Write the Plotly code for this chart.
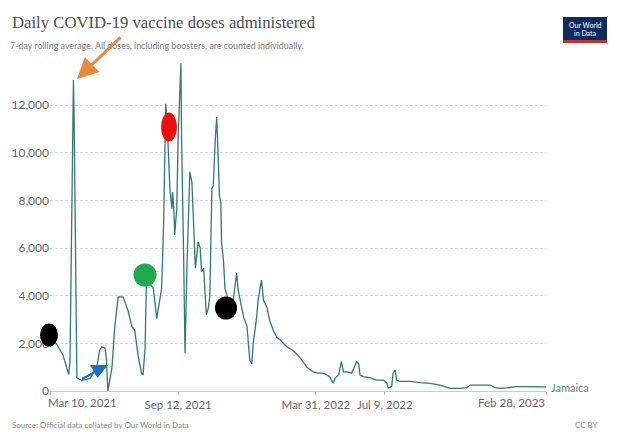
import plotly.graph_objects as go

# ---------------- data ----------------
dates = [
    "2021-03-10", "2021-03-20", "2021-03-29", "2021-04-06", "2021-04-08", "2021-04-13",
    "2021-04-14", "2021-04-15", "2021-04-18", "2021-04-25", "2021-05-07", "2021-05-17",
    "2021-05-21", "2021-05-24", "2021-05-29", "2021-05-31", "2021-06-02", "2021-06-08",
    "2021-06-12", "2021-06-17", "2021-06-24", "2021-07-01", "2021-07-07", "2021-07-11",
    "2021-07-16", "2021-07-21", "2021-07-23", "2021-07-26", "2021-07-28", "2021-08-02",
    "2021-08-07", "2021-08-12", "2021-08-17", "2021-08-19", "2021-08-22", "2021-08-24",
    "2021-08-25", "2021-08-27", "2021-08-29", "2021-08-31", "2021-09-03", "2021-09-04",
    "2021-09-06", "2021-09-07", "2021-09-10", "2021-09-12", "2021-09-16", "2021-09-17",
    "2021-09-20", "2021-09-22", "2021-09-25", "2021-09-29", "2021-10-02", "2021-10-04",
    "2021-10-07", "2021-10-09", "2021-10-11", "2021-10-14", "2021-10-16", "2021-10-19",
    "2021-10-21", "2021-10-23", "2021-10-26", "2021-10-28", "2021-10-31", "2021-11-02",
    "2021-11-05", "2021-11-07", "2021-11-09", "2021-11-11", "2021-11-13", "2021-11-14",
    "2021-11-17", "2021-11-19", "2021-11-24", "2021-12-01", "2021-12-04", "2021-12-06",
    "2021-12-08", "2021-12-11", "2021-12-16", "2021-12-18", "2021-12-21", "2021-12-25",
    "2021-12-28", "2021-12-30", "2022-01-04", "2022-01-06", "2022-01-11", "2022-01-14",
    "2022-01-19", "2022-01-23", "2022-01-28", "2022-02-02", "2022-02-07", "2022-02-17",
    "2022-02-26", "2022-03-08", "2022-03-18", "2022-03-27", "2022-04-03", "2022-04-11",
    "2022-04-16", "2022-04-20", "2022-04-25", "2022-04-28", "2022-05-03", "2022-05-07",
    "2022-05-10", "2022-05-15", "2022-05-22", "2022-05-24", "2022-05-29", "2022-06-01",
    "2022-06-03", "2022-06-08", "2022-06-18", "2022-06-27", "2022-07-07", "2022-07-12",
    "2022-07-14", "2022-07-19", "2022-07-21", "2022-07-24", "2022-07-26", "2022-07-31",
    "2022-08-15", "2022-08-29", "2022-09-13", "2022-09-27", "2022-10-12", "2022-10-26",
    "2022-11-05", "2022-11-10", "2022-11-24", "2022-12-09", "2022-12-16", "2022-12-23",
    "2023-01-02", "2023-01-16", "2023-01-31", "2023-02-10", "2023-02-24", "2023-02-28",
]
doses = [
    2300, 1950, 1500, 700, 1200, 13050,
    11400, 8300, 550, 450, 520, 1000,
    1700, 1850, 1800, 1300, 0, 1000,
    2700, 3950, 3950, 3400, 2700, 2550,
    1450, 750, 670, 1800, 4600, 4500,
    4300, 3050, 4000, 4300, 7100, 10600,
    12050, 11300, 9750, 8500, 7650, 8350,
    7500, 6550, 7650, 10600, 13750, 10600,
    5700, 1600, 5400, 9200, 8750, 7100,
    5150, 5700, 6250, 6000, 5000, 5150,
    4000, 3200, 3500, 4000, 8500, 8600,
    10600, 11500, 9900, 8200, 7900, 6250,
    5400, 4300, 3800, 3800, 4500, 4950,
    4250, 3800, 3100, 2950, 2700, 1300,
    1150, 2000, 3100, 3800, 4650, 3800,
    3500, 2950, 2550, 2250, 2150, 1850,
    1700, 1400, 1000, 800, 750, 750,
    680, 600, 330, 540, 670, 1230,
    800, 800, 750, 880, 1230, 1150,
    670, 600, 550, 460, 460, 330,
    120, 200, 750, 880, 460, 400,
    400, 350, 320, 250, 110, 110,
    140, 250, 250, 250, 140, 110,
    130, 180, 180, 190, 175, 160,
]
country = "Jamaica"
title_text = "Daily COVID-19 vaccine doses administered"
subtitle_text = "7-day rolling average. All doses, including boosters, are counted individually."
source_text = "Source: Official data collated by Our World in Data"
license_text = "CC BY"
y_tick_values = [0, 2000, 4000, 6000, 8000, 10000, 12000]
x_start, x_end = "2021-03-10", "2023-02-28"
x_start_label, x_end_label = "Mar 10, 2021", "Feb 28, 2023"
x_tick_dates = ["2021-09-12", "2022-03-31", "2022-07-09"]
x_tick_labels = ["Sep 12, 2021", "Mar 31, 2022", "Jul 9, 2022"]

# ---------------- geometry ----------------
OFF = 8                      # the page body has an 8px margin
W, H = 626 - OFF, 432 - OFF
PLOT_L, PLOT_R, PLOT_T, PLOT_B = 50, 546, 60, 391   # plot area in window pixels
ML, MR = PLOT_L - OFF, W - (PLOT_R - OFF)
MT, MB = PLOT_T - OFF, H - (PLOT_B - OFF)
PW, PH = W - ML - MR, H - MT - MB
Y_MAX = 13890


def P(xp, yp):
    """window pixel position -> paper coordinates (for decorative overlays)"""
    return (xp - PLOT_L) / PW, 1 - (yp - PLOT_T) / PH


LINE = "#2f7c6c"
GRAY = "#666666"
FONT = "Lato"

fig = go.Figure()
fig.add_trace(go.Scatter(
    x=dates, y=doses, mode="lines",
    line=dict(color=LINE, width=1.3),
    name=country, showlegend=False, hoverinfo="x+y",
))

fig.update_xaxes(
    type="date", range=[x_start, x_end], automargin=False,
    tickvals=[x_start] + x_tick_dates + [x_end],
    ticktext=[""] + x_tick_labels + [""],
    ticks="outside", ticklen=3, tickcolor="#aaaaaa",
    showgrid=False, showline=True, linecolor="#cccccc", linewidth=1,
    tickfont=dict(family=FONT, size=11.5, color=GRAY),
    zeroline=False,
)
fig.update_yaxes(
    range=[0, Y_MAX], tickvals=y_tick_values, tickformat=",d", automargin=False,
    showgrid=True, gridcolor="#d6d6d6", griddash="3px,2px", gridwidth=1,
    zeroline=False, showline=False, ticks="",
    tickfont=dict(family=FONT, size=12, color=GRAY),
)

ann = []
# title
tx, ty = P(10, 23)
ann.append(dict(x=tx, y=ty, xref="paper", yref="paper", text=title_text,
                showarrow=False, xanchor="left", yanchor="middle",
                font=dict(family="Liberation Serif", size=16.7, color="#4d4d4d")))
# subtitle
sx, sy = P(8, 45)
ann.append(dict(x=sx, y=sy, xref="paper", yref="paper", text=subtitle_text,
                showarrow=False, xanchor="left", yanchor="middle",
                font=dict(family=FONT, size=8.9, color="#777777")))
# endpoint x labels (left / right aligned like the original)
for d, lab, anc, sh in [(x_start, x_start_label, "left", -4),
                        (x_end, x_end_label, "right", 1)]:
    ann.append(dict(x=d, xref="x", y=P(0, 402)[1], yref="paper", text=lab,
                    showarrow=False, xanchor=anc, yanchor="middle", xshift=sh,
                    font=dict(family=FONT, size=11.5, color=GRAY)))
# series label
ann.append(dict(x=1, xref="paper", y=doses[-1], yref="y", text=country, xshift=3,
                showarrow=False, xanchor="left", yanchor="middle",
                font=dict(family=FONT, size=11, color="#4f8f84")))
# source / licence (kept fully inside the canvas)
sx, sy = P(10, 432)
ann.append(dict(x=sx, y=sy, xref="paper", yref="paper", text=source_text,
                showarrow=False, xanchor="left", yanchor="bottom",
                font=dict(family=FONT, size=8, color="#888888")))
sx, sy = P(600, 432)
ann.append(dict(x=sx, y=sy, xref="paper", yref="paper", text=license_text,
                showarrow=False, xanchor="right", yanchor="bottom",
                font=dict(family=FONT, size=8, color="#888888")))
# logo text
for txt, yp in [("Our World", 25), ("in Data", 33)]:
    lx, ly = P(585, yp)
    ann.append(dict(x=lx, y=ly, xref="paper", yref="paper", text=txt,
                    showarrow=False, xanchor="center", yanchor="middle",
                    font=dict(family=FONT, size=7, color="white")))
# orange arrow
hx, hy = P(77, 79)
ann.append(dict(x=hx, y=hy, xref="paper", yref="paper", text="", showarrow=True,
                ax=45, ay=-43, arrowhead=2, arrowsize=1.4, arrowwidth=3,
                arrowcolor="#e8883a"))

shapes = []


def ellipse(xp, yp, w, h, color):
    cx, cy = P(xp, yp)
    return dict(type="circle", xref="paper", yref="paper", xsizemode="pixel",
                ysizemode="pixel", xanchor=cx, yanchor=cy,
                x0=-w / 2, x1=w / 2, y0=-h / 2, y1=h / 2,
                fillcolor=color, line=dict(width=0), layer="above")


def poly(points, color):
    pts = [P(x, y) for x, y in points]
    path = "M " + " L ".join(f"{a},{b}" for a, b in pts) + " Z"
    return dict(type="path", xref="paper", yref="paper", path=path,
                fillcolor=color, line=dict(width=0), layer="above")


def rect(x0, y0, x1, y1, color):
    a, b = P(x0, y0)
    c, d = P(x1, y1)
    return dict(type="rect", xref="paper", yref="paper", x0=a, y0=b, x1=c, y1=d,
                fillcolor=color, line=dict(width=0), layer="above")


shapes.append(ellipse(49, 335, 18, 23, "#000000"))
shapes.append(ellipse(145, 275, 23, 23, "#1faa4f"))
shapes.append(ellipse(169, 127, 16, 29, "#f20d0d"))
shapes.append(ellipse(226, 308, 22, 23, "#000000"))
# blue arrow (tail + head)
a, b = P(82, 379)
c, d = P(95, 372)
shapes.append(dict(type="line", xref="paper", yref="paper", x0=a, y0=b, x1=c, y1=d,
                   line=dict(color="#1c6fc4", width=2), layer="above"))
shapes.append(poly([(90, 365), (108, 365), (97.5, 378)], "#1c6fc4"))
# logo
shapes.append(rect(563, 17, 607, 43, "#102a5c"))
shapes.append(rect(563, 40, 607, 43, "#c8302c"))

fig.update_layout(
    width=W, height=H,
    margin=dict(l=ML, r=MR, t=MT, b=MB, pad=0, autoexpand=False),
    paper_bgcolor="white", plot_bgcolor="white",
    annotations=ann, shapes=shapes,
    showlegend=False,
)

fig.write_html("out.html")
